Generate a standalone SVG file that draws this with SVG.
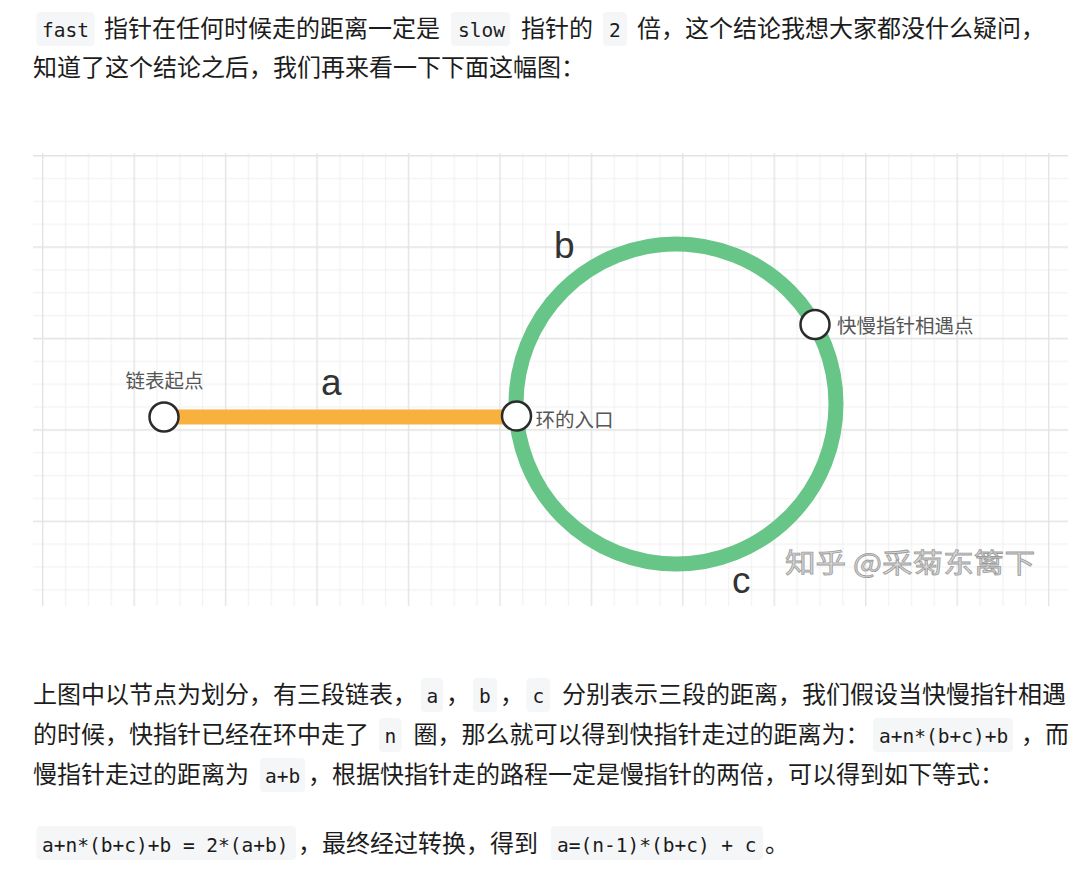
<svg xmlns="http://www.w3.org/2000/svg" width="1089" height="875" viewBox="0 0 1089 875">
<style>
.t{font-family:"Noto Sans CJK SC","Noto Sans",sans-serif;font-size:24px;fill:#1c1c1c}
.c{font-family:"DejaVu Sans Mono","Liberation Mono",monospace;font-size:19.5px;fill:#1c1c1c}
.cb{fill:#f5f6f8}
.lbl{font-family:"Noto Sans CJK SC","Noto Sans",sans-serif;font-size:19.5px;fill:#555}
.big{font-family:"Liberation Sans","Noto Sans",sans-serif;font-size:37px;fill:#333}
.node{fill:#fff;stroke:#2b2b2b;stroke-width:2.5}
.wm{font-family:"Noto Sans CJK SC",sans-serif;font-size:27px;fill:#d9d9d9;stroke:#9c9c9c;stroke-width:0.8}
</style>
<defs>
<pattern id="grid" x="42" y="155" width="91.45" height="91.4" patternUnits="userSpaceOnUse">
<path d="M23.6 0V91.4M46.5 0V91.4M69.3 0V91.4M0 23.6H91.45M0 46.5H91.45M0 69.3H91.45" stroke="#efefef" stroke-width="1" fill="none"/>
<path d="M0.7 0V91.4M0 0.7H91.45" stroke="#e3e3e3" stroke-width="1.4" fill="none"/>
</pattern>
</defs>
<rect width="1089" height="875" fill="#fff"/>

<g id="para1">
<rect class="cb" x="36.5" y="12" width="58" height="34" rx="4"/>
<text class="c" x="42" y="37">fast</text>
<text class="t" x="104" y="37">指针在任何时候走的距离一定是</text>
<rect class="cb" x="451" y="12" width="59" height="34" rx="4"/>
<text class="c" x="458" y="37">slow</text>
<text class="t" x="521" y="37">指针的</text>
<rect class="cb" x="603" y="12" width="24" height="34" rx="4"/>
<text class="c" x="609" y="37">2</text>
<text class="t" x="637" y="37">倍，这个结论我想大家都没什么疑问，</text>
<text class="t" x="33" y="76">知道了这个结论之后，我们再来看一下下面这幅图：</text>
</g>

<g id="figure">
<rect x="33" y="153" width="1035" height="453" fill="url(#grid)"/>
<g id="watermark"><text class="wm" x="785" y="573" textLength="250" lengthAdjust="spacingAndGlyphs">知乎 @采菊东篱下</text></g>
<g id="connectors">
<line x1="164" y1="417" x2="516" y2="417" stroke="#f8b13f" stroke-width="15"/>
<circle cx="676" cy="404" r="160" fill="none" stroke="#67c587" stroke-width="15"/>
</g>
<g id="node-start"><circle class="node" cx="164" cy="417" r="14.5"/><text class="lbl" x="125.5" y="388">链表起点</text></g>
<g id="node-entry"><circle class="node" cx="516.5" cy="416" r="14.5"/><text class="lbl" x="535.5" y="427">环的入口</text></g>
<g id="node-meet"><circle class="node" cx="815" cy="324.5" r="14.5"/><text class="lbl" x="837" y="333">快慢指针相遇点</text></g>
<text class="big" x="321" y="394.5">a</text>
<text class="big" x="554" y="258">b</text>
<text class="big" x="732" y="593">c</text>
</g>

<g id="para2">
<text class="t" x="33" y="703">上图中以节点为划分，有三段链表，</text>
<rect class="cb" x="421" y="678" width="22" height="34" rx="4"/>
<text class="c" x="426.5" y="703">a</text>
<text class="t" x="446" y="703">，</text>
<rect class="cb" x="473" y="678" width="24" height="34" rx="4"/>
<text class="c" x="479" y="703">b</text>
<text class="t" x="500" y="703">，</text>
<rect class="cb" x="526.5" y="678" width="23.5" height="34" rx="4"/>
<text class="c" x="532.5" y="703">c</text>
<text class="t" x="562" y="703">分别表示三段的距离，我们假设当快慢指针相遇</text>

<text class="t" x="33" y="743">的时候，快指针已经在环中走了</text>
<rect class="cb" x="379" y="718" width="22.5" height="34" rx="4"/>
<text class="c" x="384.5" y="743">n</text>
<text class="t" x="413.5" y="743">圈，那么就可以得到快指针走过的距离为：</text>
<rect class="cb" x="873" y="718" width="140" height="34" rx="4"/>
<text class="c" x="879" y="743">a+n*(b+c)+b</text>
<text class="t" x="1021" y="743">，而</text>

<text class="t" x="33" y="783">慢指针走过的距离为</text>
<rect class="cb" x="260" y="758" width="45" height="34" rx="4"/>
<text class="c" x="265" y="783">a+b</text>
<text class="t" x="308" y="783">，根据快指针走的路程一定是慢指针的两倍，可以得到如下等式：</text>
</g>

<g id="para3">
<rect class="cb" x="36.5" y="826" width="259.5" height="34" rx="4"/>
<text class="c" x="42" y="852">a+n*(b+c)+b = 2*(a+b)</text>
<text class="t" x="298" y="852">，最终经过转换，得到</text>
<rect class="cb" x="551" y="826" width="212" height="34" rx="4"/>
<text class="c" x="557" y="852">a=(n-1)*(b+c) + c</text>
<text class="t" x="765" y="852">。</text>
</g>
</svg>
